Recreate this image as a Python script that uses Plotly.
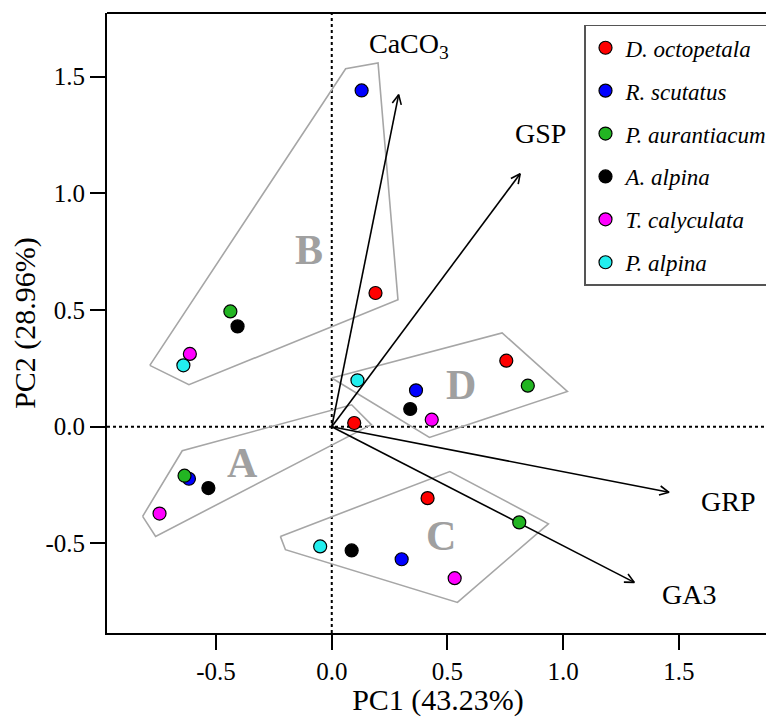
import numpy as np
import plotly.graph_objects as go

# ---- species scores (PC1, PC2) ----
species = ["D. octopetala", "R. scutatus", "P. aurantiacum", "A. alpina", "T. calyculata", "P. alpina"]
colors = ["#ff0000", "#0000ff", "#22b522", "#000000", "#ff00ff", "#22eeee"]

d_oct_x = [0.189, 0.097, 0.754, 0.414]
d_oct_y = [0.573, 0.016, 0.283, -0.306]
r_scu_x = [0.129, -0.617, 0.364, 0.302]
r_scu_y = [1.441, -0.223, 0.156, -0.568]
p_aur_x = [-0.438, -0.636, 0.847, 0.810]
p_aur_y = [0.494, -0.210, 0.176, -0.410]
a_alp_x = [-0.407, -0.533, 0.339, 0.086]
a_alp_y = [0.430, -0.263, 0.076, -0.530]
t_cal_x = [-0.613, -0.744, 0.432, 0.531]
t_cal_y = [0.312, -0.372, 0.030, -0.649]
p_alp_x = [-0.641, 0.111, -0.050]
p_alp_y = [0.263, 0.199, -0.513]

# ---- loading vectors ----
vec_names = ["CaCO<sub>3</sub>", "GSP", "GRP", "GA3"]
vec_x = [0.289, 0.814, 1.457, 1.307]
vec_y = [1.423, 1.084, -0.281, -0.667]
vec_label_x = [0.335, 0.90, 1.71, 1.545]
vec_label_y = [1.635, 1.255, -0.32, -0.72]

# ---- group hulls ----
hull_names = ["A", "B", "C", "D"]
hull_A_x = [-0.817, -0.646, 0.086, 0.171, -0.761]
hull_A_y = [-0.384, -0.103, 0.094, 0.009, -0.470]
hull_B_x = [-0.786, -0.617, 0.286, 0.200, 0.060]
hull_B_y = [0.263, 0.180, 0.544, 1.559, 1.534]
hull_C_x = [-0.222, -0.200, 0.543, 0.936, 0.510]
hull_C_y = [-0.470, -0.527, -0.753, -0.416, -0.192]
hull_D_x = [0.000, 0.422, 1.018, 0.736]
hull_D_y = [0.209, -0.046, 0.151, 0.402]
group_label_x = [-0.385, -0.097, 0.471, 0.557]
group_label_y = [-0.155, 0.757, -0.470, 0.179]

xs = [d_oct_x, r_scu_x, p_aur_x, a_alp_x, t_cal_x, p_alp_x]
ys = [d_oct_y, r_scu_y, p_aur_y, a_alp_y, t_cal_y, p_alp_y]
hulls = [(hull_A_x, hull_A_y), (hull_B_x, hull_B_y), (hull_C_x, hull_C_y), (hull_D_x, hull_D_y)]

SERIF = "Liberation Serif, Times New Roman, serif"
fig = go.Figure()

# hulls
for hx, hy in hulls:
    fig.add_trace(go.Scatter(x=hx + hx[:1], y=hy + hy[:1], mode="lines",
                             line=dict(color="#a6a6a6", width=1.6),
                             showlegend=False, hoverinfo="skip"))

# vectors with open arrowheads
head_len = 0.045
head_ang = np.deg2rad(26)
for vx, vy in zip(vec_x, vec_y):
    fig.add_trace(go.Scatter(x=[0, vx], y=[0, vy], mode="lines",
                             line=dict(color="black", width=1.6),
                             showlegend=False, hoverinfo="skip"))
    ang = np.arctan2(vy, vx)
    hx = [vx - head_len * np.cos(ang - head_ang), vx, vx - head_len * np.cos(ang + head_ang)]
    hy = [vy - head_len * np.sin(ang - head_ang), vy, vy - head_len * np.sin(ang + head_ang)]
    fig.add_trace(go.Scatter(x=hx, y=hy, mode="lines",
                             line=dict(color="black", width=1.6),
                             showlegend=False, hoverinfo="skip"))

# species points
for i, (name, c) in enumerate(zip(species, colors)):
    fig.add_trace(go.Scatter(x=xs[i], y=ys[i], mode="markers", name=name,
                             legendgroup=name,
                             marker=dict(size=13, color=c, line=dict(color="black", width=1.2))))

# vector labels
for name, lx, ly in zip(vec_names, vec_label_x, vec_label_y):
    fig.add_annotation(x=lx, y=ly, text=name, showarrow=False,
                       font=dict(family=SERIF, size=28, color="black"))

# group labels
for name, gx, gy in zip(hull_names, group_label_x, group_label_y):
    fig.add_annotation(x=gx, y=gy, text="<b>" + name + "</b>", showarrow=False,
                       font=dict(family=SERIF, size=42, color="#a0a0a0"))

# zero lines
fig.add_shape(type="line", xref="x", yref="paper", x0=0, x1=0, y0=0, y1=1,
              line=dict(color="black", width=2, dash="dot"), layer="below")
fig.add_shape(type="line", xref="paper", yref="y", x0=0, x1=1, y0=0, y1=0,
              line=dict(color="black", width=2, dash="dot"), layer="below")
# top frame line
fig.add_shape(type="line", xref="paper", yref="paper", x0=0, x1=1, y0=1, y1=1,
              line=dict(color="black", width=2))

fig.update_layout(
    width=766, height=709,
    margin=dict(l=99, r=0, t=5, b=84),
    plot_bgcolor="white", paper_bgcolor="white",
    font=dict(family=SERIF, color="black"),
    legend=dict(x=0.721, y=0.981, xanchor="left", yanchor="top",
                bordercolor="#555555", borderwidth=1.5, bgcolor="white",
                font=dict(family=SERIF, size=23, style="italic", color="black"),
                tracegroupgap=10, traceorder="grouped"),
    xaxis=dict(range=[-0.971, 1.889], tickvals=[-0.5, 0, 0.5, 1.0, 1.5],
               ticktext=["-0.5", "0.0", "0.5", "1.0", "1.5"], automargin=False,
               showgrid=False, zeroline=False, showline=True, linecolor="black", linewidth=2,
               ticks="outside", ticklen=15, tickwidth=2, tickcolor="black",
               tickfont=dict(family=SERIF, size=25),
               title=dict(text="PC1 (43.23%)", font=dict(family=SERIF, size=30), standoff=4)),
    yaxis=dict(range=[-0.884, 1.773], tickvals=[-0.5, 0, 0.5, 1.0, 1.5],
               ticktext=["-0.5", "0.0", "0.5", "1.0", "1.5"], automargin=False,
               showgrid=False, zeroline=False, showline=True, linecolor="black", linewidth=2,
               ticks="outside", ticklen=15, tickwidth=2, tickcolor="black",
               tickfont=dict(family=SERIF, size=25),
               title=dict(text="PC2 (28.96%)", font=dict(family=SERIF, size=30), standoff=2)),
)

fig.write_html("out.html")
